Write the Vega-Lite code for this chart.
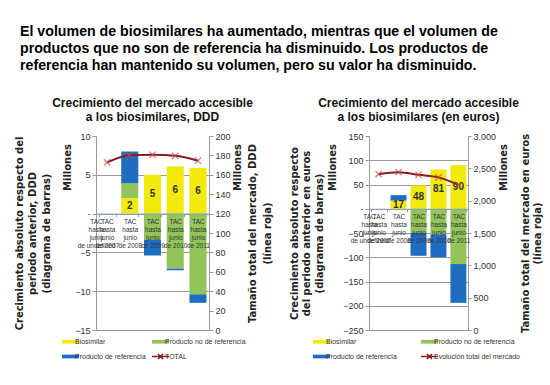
{
  "$schema": "https://vega.github.io/schema/vega-lite/v6.json",
  "background": "white",
  "padding": {"left": 14, "top": 24, "right": 2, "bottom": 2},
  "config": {
    "view": {"stroke": null},
    "font": "Liberation Sans"
  },
  "title": {
    "text": [
      "El volumen de biosimilares ha aumentado, mientras que el volumen de",
      "productos que no son de referencia ha disminuido. Los productos de",
      "referencia han mantenido su volumen, pero su valor ha disminuido."
    ],
    "anchor": "start",
    "font": "Liberation Sans",
    "fontSize": 14.2,
    "fontWeight": "bold",
    "lineHeight": 17,
    "color": "#000000",
    "offset": 24,
    "dx": 6
  },
  "datasets": {
    "ddd": [
      {"periodo": "2008", "serie": "Biosimilar", "valor": 2},
      {"periodo": "2008", "serie": "Producto no de referencia", "valor": 1.9},
      {"periodo": "2008", "serie": "Producto de referencia", "valor": 4.1},
      {"periodo": "2009", "serie": "Biosimilar", "valor": 5},
      {"periodo": "2009", "serie": "Producto no de referencia", "valor": -3.4},
      {"periodo": "2009", "serie": "Producto de referencia", "valor": -2.0},
      {"periodo": "2010", "serie": "Biosimilar", "valor": 6.1},
      {"periodo": "2010", "serie": "Producto no de referencia", "valor": -7.1},
      {"periodo": "2010", "serie": "Producto de referencia", "valor": -0.2},
      {"periodo": "2011", "serie": "Biosimilar", "valor": 5.9},
      {"periodo": "2011", "serie": "Producto no de referencia", "valor": -10.4},
      {"periodo": "2011", "serie": "Producto de referencia", "valor": -1.1}
    ],
    "ddd_total": [
      {"periodo": "2007", "total": 172.8},
      {"periodo": "2008", "total": 180.2},
      {"periodo": "2009", "total": 180.6},
      {"periodo": "2010", "total": 179.6},
      {"periodo": "2011", "total": 174.5}
    ],
    "eur": [
      {"periodo": "2008", "serie": "Biosimilar", "valor": 17},
      {"periodo": "2008", "serie": "Producto de referencia", "valor": 11},
      {"periodo": "2009", "serie": "Biosimilar", "valor": 48},
      {"periodo": "2009", "serie": "Producto no de referencia", "valor": -50},
      {"periodo": "2009", "serie": "Producto de referencia", "valor": -47},
      {"periodo": "2010", "serie": "Biosimilar", "valor": 81},
      {"periodo": "2010", "serie": "Producto no de referencia", "valor": -53},
      {"periodo": "2010", "serie": "Producto de referencia", "valor": -47},
      {"periodo": "2011", "serie": "Biosimilar", "valor": 90},
      {"periodo": "2011", "serie": "Producto no de referencia", "valor": -114},
      {"periodo": "2011", "serie": "Producto de referencia", "valor": -80}
    ],
    "eur_total": [
      {"periodo": "2007", "total": 2410},
      {"periodo": "2008", "total": 2440},
      {"periodo": "2009", "total": 2400},
      {"periodo": "2010", "total": 2360},
      {"periodo": "2011", "total": 2245}
    ]
  },
  "resolve": {"scale": {"color": "independent"}, "legend": {"color": "independent"}},
  "spacing": 16,
  "hconcat": [
    {
      "width": 113,
      "height": 194,
      "title": {
        "text": ["Crecimiento del mercado accesible", "a los biosimilares, DDD"],
        "font": "'Liberation Sans Narrow', 'Liberation Sans'",
        "fontSize": 12,
        "fontWeight": "bold",
        "lineHeight": 14,
        "color": "#111111",
        "offset": 8
      },
      "resolve": {"scale": {"y": "independent"}},
      "layer": [
        {
          "resolve": {"axis": {"y": "independent"}},
          "layer": [
            {
              "data": {"name": "ddd"},
              "transform": [
                {"calculate": "indexof(['Biosimilar','Producto no de referencia','Producto de referencia'], datum.serie)", "as": "k"}
              ],
              "mark": {"type": "bar"},
              "encoding": {
                "x": {
                  "field": "periodo", "type": "ordinal",
                  "scale": {"domain": ["2007", "2008", "2009", "2010", "2011"], "paddingInner": 0.25, "paddingOuter": 0.11},
                  "axis": {
                    "title": null, "orient": "bottom", "offset": -116.4, "zindex": 1,
                    "labelExpr": "['TAC', 'hasta', 'junio', 'de ' + datum.value]",
                    "labelAngle": 0, "labelAlign": "center", "labelOverlap": false, "labelBound": false,
                    "labelFont": "'Liberation Sans Narrow', 'Liberation Sans'",
                    "labelFontSize": 6.5, "labelLineHeight": 8, "labelColor": "#333333",
                    "labelPadding": 2, "tickSize": 3, "tickBand": "extent",
                    "domainColor": "#8a9fc0", "tickColor": "#8a9fc0"
                  }
                },
                "y": {
                  "field": "valor", "type": "quantitative", "stack": "zero",
                  "scale": {"domain": [-15, 10], "nice": false, "zero": false},
                  "axis": {
                    "orient": "left", "title": "Millones",
                    "titleX": -24, "titleY": 31, "titleAngle": 270, "titleAlign": "center", "titleBaseline": "bottom",
                    "titleFont": "DejaVu Sans", "titleFontSize": 10, "titleFontWeight": "bold",
                    "titleColor": "#222222",
                    "values": [-15, -10, -5, 0, 5, 10],
                    "labelExpr": "datum.value == 0 ? '-' : datum.label",
                    "labelFontSize": 9, "labelColor": "#333333",
                    "domainColor": "#999999", "tickColor": "#999999", "tickSize": 4,
                    "grid": true,
                    "gridColor": {"condition": {"test": "datum.value == 10", "value": "transparent"}, "value": "#9a9a9a"}
                  }
                },
                "color": {
                  "field": "serie", "type": "nominal",
                  "scale": {
                    "domain": ["Biosimilar", "Producto de referencia", "Producto no de referencia", "TOTAL"],
                    "range": ["#F2EA0C", "#1F6DC1", "#92C45A", "#8B1C24"]
                  },
                  "legend": {
                    "title": null, "orient": "none", "legendX": -29, "legendY": 202,
                    "columns": 2, "columnPadding": 2, "rowPadding": 5,
                    "symbolType": "M-1,-0.22H1V0.22H-1Z", "symbolSize": 289,
                    "symbolStrokeWidth": 0,
                    "labelFont": "'Liberation Sans Narrow', 'Liberation Sans'",
                    "labelFontSize": 7, "labelColor": "#333333", "labelOffset": 1,
                    "encode": {
                      "symbols": {
                        "update": {
                          "shape": {"signal": "datum.value === 'TOTAL' ? 'M-1,0H1M-0.3,-0.3L0.3,0.3M-0.3,0.3L0.3,-0.3' : 'M-1,-0.22H1V0.22H-1Z'"},
                          "stroke": {"signal": "datum.value === 'TOTAL' ? '#8B1C24' : 'transparent'"},
                          "strokeWidth": {"signal": "datum.value === 'TOTAL' ? 1.6 : 0"}
                        }
                      }
                    }
                  }
                },
                "order": {"field": "k", "type": "quantitative"}
              }
            },
            {
              "data": {"name": "ddd"},
              "transform": [
                {"filter": "datum.serie == 'Biosimilar'"},
                {"calculate": "datum.valor / 2", "as": "mid"}
              ],
              "mark": {"type": "text", "fontSize": 10, "fontWeight": "bold", "color": "#333333"},
              "encoding": {
                "x": {"field": "periodo", "type": "ordinal"},
                "y": {
                  "field": "mid", "type": "quantitative",
                  "axis": {
                    "orient": "left",
                    "title": ["Crecimiento absoluto respecto del", "periodo anterior, DDD", "(diagrama de barras)"],
                    "titleX": -72, "titleY": 97, "titleAngle": 270, "titleAlign": "center", "titleBaseline": "bottom",
                    "titleFont": "DejaVu Sans", "titleFontSize": 10, "titleFontWeight": "bold",
                    "titleColor": "#222222", "titleLineHeight": 13.5,
                    "labels": false, "ticks": false, "domain": false, "grid": false
                  }
                },
                "text": {"field": "valor", "type": "quantitative", "format": ".0f"}
              }
            }
          ]
        },
        {
          "resolve": {"axis": {"y": "independent"}},
          "layer": [
            {
              "data": {"name": "ddd_total"},
              "mark": {"type": "line", "interpolate": "monotone", "color": "#8B1C24", "strokeWidth": 2},
              "encoding": {
                "x": {"field": "periodo", "type": "ordinal"},
                "y": {
                  "field": "total", "type": "quantitative",
                  "scale": {"domain": [0, 200], "nice": false},
                  "axis": {
                    "orient": "right", "title": "Millones",
                    "titleX": 23, "titleY": 31, "titleAngle": 270, "titleAlign": "center", "titleBaseline": "top",
                    "titleFont": "DejaVu Sans", "titleFontSize": 10, "titleFontWeight": "bold",
                    "titleColor": "#222222",
                    "values": [0, 20, 40, 60, 80, 100, 120, 140, 160, 180, 200],
                    "labelFontSize": 9, "labelColor": "#333333",
                    "domainColor": "#999999", "tickColor": "#999999", "tickSize": 4, "grid": false
                  }
                }
              }
            },
            {
              "data": {"name": "ddd_total"},
              "mark": {"type": "point", "shape": "M-1,-1L1,1M-1,1L1,-1", "size": 40, "filled": false, "strokeWidth": 1.3, "color": "#C0504D"},
              "encoding": {
                "x": {"field": "periodo", "type": "ordinal"},
                "y": {
                  "field": "total", "type": "quantitative",
                  "axis": {
                    "orient": "right",
                    "title": ["Tamaño total del mercado, DDD", "(línea roja)"],
                    "titleX": 38, "titleY": 97, "titleAngle": 270, "titleAlign": "center", "titleBaseline": "top",
                    "titleFont": "DejaVu Sans", "titleFontSize": 10, "titleFontWeight": "bold",
                    "titleColor": "#222222", "titleLineHeight": 15,
                    "labels": false, "ticks": false, "domain": false, "grid": false
                  }
                }
              }
            }
          ]
        }
      ]
    },
    {
      "width": 99,
      "height": 194,
      "title": {
        "text": ["Crecimiento del mercado accesible", "a los biosimilares (en euros)"],
        "font": "'Liberation Sans Narrow', 'Liberation Sans'",
        "fontSize": 12,
        "fontWeight": "bold",
        "lineHeight": 14,
        "color": "#111111",
        "offset": 8
      },
      "resolve": {"scale": {"y": "independent"}},
      "layer": [
        {
          "resolve": {"axis": {"y": "independent"}},
          "layer": [
            {
              "data": {"name": "eur"},
              "transform": [
                {"calculate": "indexof(['Biosimilar','Producto no de referencia','Producto de referencia'], datum.serie)", "as": "k"}
              ],
              "mark": {"type": "bar"},
              "encoding": {
                "x": {
                  "field": "periodo", "type": "ordinal",
                  "scale": {"domain": ["2007", "2008", "2009", "2010", "2011"], "paddingInner": 0.2, "paddingOuter": 0.08},
                  "axis": {
                    "title": null, "orient": "bottom", "offset": -121.25, "zindex": 1,
                    "labelExpr": "['TAC', 'hasta', 'junio', 'de ' + datum.value]",
                    "labelAngle": 0, "labelAlign": "center", "labelOverlap": false, "labelBound": false,
                    "labelFont": "'Liberation Sans Narrow', 'Liberation Sans'",
                    "labelFontSize": 6.5, "labelLineHeight": 8, "labelColor": "#333333",
                    "labelPadding": 2, "tickSize": 3, "tickBand": "extent",
                    "domainColor": "#8a9fc0", "tickColor": "#8a9fc0"
                  }
                },
                "y": {
                  "field": "valor", "type": "quantitative", "stack": "zero",
                  "scale": {"domain": [-250, 150], "nice": false, "zero": false},
                  "axis": {
                    "orient": "left", "title": "Millones",
                    "titleX": -32, "titleY": 31, "titleAngle": 270, "titleAlign": "center", "titleBaseline": "bottom",
                    "titleFont": "DejaVu Sans", "titleFontSize": 10, "titleFontWeight": "bold",
                    "titleColor": "#222222",
                    "values": [-250, -200, -150, -100, -50, 0, 50, 100, 150],
                    "labelExpr": "datum.value == 0 ? '-' : datum.label",
                    "labelFontSize": 9, "labelColor": "#333333",
                    "domainColor": "#999999", "tickColor": "#999999", "tickSize": 4,
                    "grid": true,
                    "gridColor": {"condition": {"test": "datum.value == 150", "value": "transparent"}, "value": "#9a9a9a"}
                  }
                },
                "color": {
                  "field": "serie", "type": "nominal",
                  "scale": {
                    "domain": ["Biosimilar", "Producto de referencia", "Producto no de referencia", "Evolución total del mercado"],
                    "range": ["#F2EA0C", "#1F6DC1", "#92C45A", "#8B1C24"]
                  },
                  "legend": {
                    "title": null, "orient": "none", "legendX": -51, "legendY": 202,
                    "columns": 2, "columnPadding": 20, "rowPadding": 5,
                    "symbolType": "M-1,-0.22H1V0.22H-1Z", "symbolSize": 289,
                    "symbolStrokeWidth": 0,
                    "labelFont": "'Liberation Sans Narrow', 'Liberation Sans'",
                    "labelFontSize": 7, "labelColor": "#333333", "labelOffset": 1,
                    "encode": {
                      "symbols": {
                        "update": {
                          "shape": {"signal": "datum.value === 'Evolución total del mercado' ? 'M-1,0H1M-0.3,-0.3L0.3,0.3M-0.3,0.3L0.3,-0.3' : 'M-1,-0.22H1V0.22H-1Z'"},
                          "stroke": {"signal": "datum.value === 'Evolución total del mercado' ? '#8B1C24' : 'transparent'"},
                          "strokeWidth": {"signal": "datum.value === 'Evolución total del mercado' ? 1.6 : 0"}
                        }
                      }
                    }
                  }
                },
                "order": {"field": "k", "type": "quantitative"}
              }
            },
            {
              "data": {"name": "eur"},
              "transform": [
                {"filter": "datum.serie == 'Biosimilar'"},
                {"calculate": "datum.valor / 2", "as": "mid"}
              ],
              "mark": {"type": "text", "fontSize": 10, "fontWeight": "bold", "color": "#333333"},
              "encoding": {
                "x": {"field": "periodo", "type": "ordinal"},
                "y": {
                  "field": "mid", "type": "quantitative",
                  "axis": {
                    "orient": "left",
                    "title": ["Crecimiento absoluto respecto", "del periodo anterior en euros", "(diagrama de barras)"],
                    "titleX": -70, "titleY": 97, "titleAngle": 270, "titleAlign": "center", "titleBaseline": "bottom",
                    "titleFont": "DejaVu Sans", "titleFontSize": 10, "titleFontWeight": "bold",
                    "titleColor": "#222222", "titleLineHeight": 12.5,
                    "labels": false, "ticks": false, "domain": false, "grid": false
                  }
                },
                "text": {"field": "valor", "type": "quantitative", "format": ".0f"}
              }
            }
          ]
        },
        {
          "resolve": {"axis": {"y": "independent"}},
          "layer": [
            {
              "data": {"name": "eur_total"},
              "mark": {"type": "line", "interpolate": "monotone", "color": "#8B1C24", "strokeWidth": 2},
              "encoding": {
                "x": {"field": "periodo", "type": "ordinal"},
                "y": {
                  "field": "total", "type": "quantitative",
                  "scale": {"domain": [0, 3000], "nice": false},
                  "axis": {
                    "orient": "right", "title": "Millones",
                    "titleX": 30, "titleY": 31, "titleAngle": 270, "titleAlign": "center", "titleBaseline": "top",
                    "titleFont": "DejaVu Sans", "titleFontSize": 10, "titleFontWeight": "bold",
                    "titleColor": "#222222",
                    "values": [0, 500, 1000, 1500, 2000, 2500, 3000],
                    "labelExpr": "format(datum.value, ',')",
                    "labelFontSize": 9, "labelColor": "#333333", "labelPadding": 2,
                    "domainColor": "#999999", "tickColor": "#999999", "tickSize": 3, "grid": false
                  }
                }
              }
            },
            {
              "data": {"name": "eur_total"},
              "mark": {"type": "point", "shape": "M-1,-1L1,1M-1,1L1,-1", "size": 40, "filled": false, "strokeWidth": 1.3, "color": "#C0504D"},
              "encoding": {
                "x": {"field": "periodo", "type": "ordinal"},
                "y": {
                  "field": "total", "type": "quantitative",
                  "axis": {
                    "orient": "right",
                    "title": ["Tamaño total del mercado en euros", "(línea roja)"],
                    "titleX": 52, "titleY": 97, "titleAngle": 270, "titleAlign": "center", "titleBaseline": "top",
                    "titleFont": "DejaVu Sans", "titleFontSize": 10, "titleFontWeight": "bold",
                    "titleColor": "#222222", "titleLineHeight": 12,
                    "labels": false, "ticks": false, "domain": false, "grid": false
                  }
                }
              }
            }
          ]
        }
      ]
    }
  ]
}
